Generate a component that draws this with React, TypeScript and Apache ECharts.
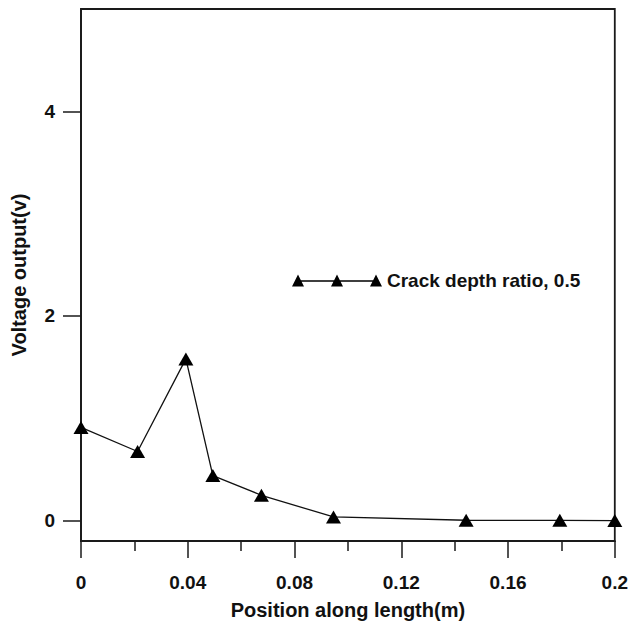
import React, { useEffect, useRef } from "react";
import * as echarts from "echarts";

const positions = [0, 0.0212, 0.0393, 0.0494, 0.0676, 0.0946, 0.1443, 0.1794, 0.2];
const voltages = [0.91, 0.675, 1.58, 0.44, 0.247, 0.035, 0.003, 0.002, 0.0];
const yTickValues = [0, 2, 4];
const seriesName = "Crack depth ratio, 0.5";

export default function App() {
  const ref = useRef<HTMLDivElement>(null);
  useEffect(() => {
    if (!ref.current) return;
    const chart = echarts.init(ref.current, null, { renderer: "svg" });
    const font = "'Liberation Sans', Arial, sans-serif";
    const axisColor = "#1a1a1a";
    chart.setOption({
      animation: false,
      backgroundColor: "#fff",
      grid: {
        left: 81,
        right: 15,
        top: 9,
        bottom: 82,
        show: true,
        borderColor: axisColor,
        borderWidth: 1.8,
        backgroundColor: "transparent",
      },
      legend: {
        show: true,
        left: 287,
        top: 266,
        itemWidth: 90,
        itemHeight: 12,
        itemGap: 0,
        icon:
          "path://M0,12L6,0L12,12Z M39,12L45,0L51,12Z M78,12L84,0L90,12Z M6,5.8L84,5.8L84,7.2L6,7.2Z",
        textStyle: { fontFamily: font, fontWeight: "bold", fontSize: 19, color: "#111" },
        data: [seriesName],
      },
      xAxis: {
        type: "value",
        min: 0,
        max: 0.2,
        interval: 0.04,
        name: "Position along length(m)",
        nameLocation: "middle",
        nameGap: 59,
        nameTextStyle: { fontFamily: font, fontWeight: "bold", fontSize: 20, color: "#111" },
        axisLine: { show: true, onZero: false, lineStyle: { color: axisColor, width: 1.8 } },
        axisTick: { show: true, length: 17, lineStyle: { color: axisColor, width: 1.5 } },
        minorTick: { show: true, splitNumber: 2, length: 10, lineStyle: { color: axisColor, width: 1.5 } },
        splitLine: { show: false },
        axisLabel: { fontFamily: font, fontWeight: "bold", fontSize: 19, color: "#111", margin: 32 },
      },
      yAxis: {
        type: "value",
        min: -0.2,
        max: 5,
        name: "Voltage output(v)",
        nameLocation: "middle",
        nameGap: 52,
        nameTextStyle: { fontFamily: font, fontWeight: "bold", fontSize: 20, color: "#111" },
        axisLine: { show: true, onZero: false, lineStyle: { color: axisColor, width: 1.8 } },
        axisTick: { show: true, length: 18, customValues: yTickValues, lineStyle: { color: axisColor, width: 1.5 } },
        splitLine: { show: false },
        axisLabel: { customValues: yTickValues, fontFamily: font, fontWeight: "bold", fontSize: 19, color: "#111", margin: 26 },
      },
      series: [
        {
          name: seriesName,
          type: "line",
          data: positions.map((x, i) => [x, voltages[i]]),
          symbol: "triangle",
          symbolSize: [15, 13],
          showAllSymbol: true,
          itemStyle: { color: "#000" },
          lineStyle: { color: "#111", width: 1.3 },
          clip: false,
        },
      ],
    });
    return () => chart.dispose();
  }, []);
  return <div ref={ref} style={{ position: "fixed", left: 0, top: 0, width: 631, height: 625 }} />;
}
